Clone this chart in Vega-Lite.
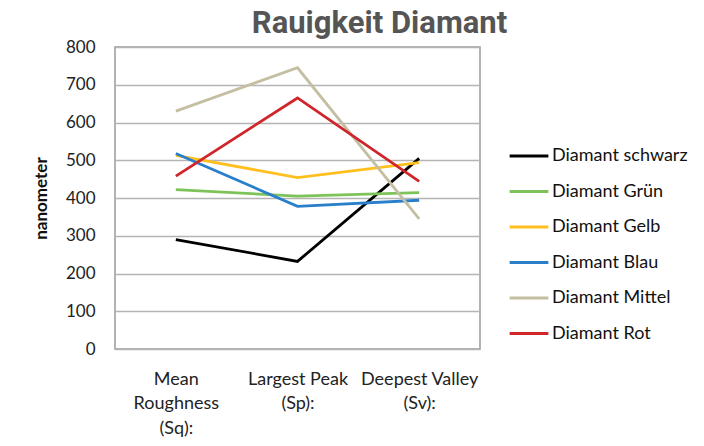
{
  "$schema": "https://vega.github.io/schema/vega-lite/v6.json",
  "autosize": {"type": "none"},
  "padding": {"left": 115, "top": 47, "right": 224, "bottom": 97},
  "width": 365,
  "height": 302,
  "background": "white",
  "title": {
    "text": "Rauigkeit Diamant",
    "font": "Roboto",
    "fontSize": 31,
    "fontWeight": "bold",
    "color": "#555555",
    "anchor": "middle",
    "dx": 82,
    "offset": -2
  },
  "data": {
    "values": [
      {"param": "Mean Roughness (Sq):", "series": "Diamant schwarz", "value": 290},
      {"param": "Largest Peak (Sp):", "series": "Diamant schwarz", "value": 232},
      {"param": "Deepest Valley (Sv):", "series": "Diamant schwarz", "value": 505},
      {"param": "Mean Roughness (Sq):", "series": "Diamant Grün", "value": 422},
      {"param": "Largest Peak (Sp):", "series": "Diamant Grün", "value": 405},
      {"param": "Deepest Valley (Sv):", "series": "Diamant Grün", "value": 414},
      {"param": "Mean Roughness (Sq):", "series": "Diamant Gelb", "value": 513},
      {"param": "Largest Peak (Sp):", "series": "Diamant Gelb", "value": 454},
      {"param": "Deepest Valley (Sv):", "series": "Diamant Gelb", "value": 494},
      {"param": "Mean Roughness (Sq):", "series": "Diamant Blau", "value": 518},
      {"param": "Largest Peak (Sp):", "series": "Diamant Blau", "value": 378},
      {"param": "Deepest Valley (Sv):", "series": "Diamant Blau", "value": 394},
      {"param": "Mean Roughness (Sq):", "series": "Diamant Mittel", "value": 630},
      {"param": "Largest Peak (Sp):", "series": "Diamant Mittel", "value": 745},
      {"param": "Deepest Valley (Sv):", "series": "Diamant Mittel", "value": 345},
      {"param": "Mean Roughness (Sq):", "series": "Diamant Rot", "value": 458},
      {"param": "Largest Peak (Sp):", "series": "Diamant Rot", "value": 665},
      {"param": "Deepest Valley (Sv):", "series": "Diamant Rot", "value": 444}
    ]
  },
  "mark": {"type": "line", "strokeWidth": 2.8},
  "encoding": {
    "x": {
      "field": "param",
      "type": "nominal",
      "sort": ["Mean Roughness (Sq):", "Largest Peak (Sp):", "Deepest Valley (Sv):"],
      "scale": {"type": "point", "padding": 0.5},
      "axis": {
        "title": null,
        "domain": false,
        "ticks": false,
        "grid": false,
        "labelAngle": 0,
        "labelFont": "Lato",
        "labelFontSize": 18,
        "labelColor": "#222222",
        "labelPadding": 21,
        "labelLineHeight": 24.5,
        "labelBaseline": "top",
        "labelExpr": "datum.value == 'Mean Roughness (Sq):' ? ['Mean', 'Roughness', '(Sq):'] : datum.value == 'Largest Peak (Sp):' ? ['Largest Peak', '(Sp):'] : ['Deepest Valley', '(Sv):']"
      }
    },
    "y": {
      "field": "value",
      "type": "quantitative",
      "scale": {"domain": [0, 800], "nice": false},
      "axis": {
        "title": "nanometer",
        "titleFont": "Lato",
        "titleFontSize": 17,
        "titleFontWeight": "bold",
        "titleColor": "#111111",
        "titlePadding": 15,
        "values": [0, 100, 200, 300, 400, 500, 600, 700, 800],
        "domain": false,
        "ticks": false,
        "labelFont": "Lato",
        "labelFontSize": 17,
        "labelColor": "#222222",
        "labelPadding": 20,
        "gridColor": "#b4b4b4",
        "gridWidth": 1.5
      }
    },
    "color": {
      "field": "series",
      "type": "nominal",
      "sort": ["Diamant schwarz", "Diamant Grün", "Diamant Gelb", "Diamant Blau", "Diamant Mittel", "Diamant Rot"],
      "scale": {
        "domain": ["Diamant schwarz", "Diamant Grün", "Diamant Gelb", "Diamant Blau", "Diamant Mittel", "Diamant Rot"],
        "range": ["#000000", "#7dc35a", "#ffbf1f", "#2a7fcb", "#c4bfa2", "#d0262b"]
      },
      "legend": {
        "title": null,
        "orient": "none",
        "legendX": 393,
        "legendY": 88,
        "symbolType": "stroke",
        "symbolSize": 1500,
        "symbolStrokeWidth": 3,
        "rowPadding": 5.5,
        "labelFont": "Lato",
        "labelFontSize": 18,
        "labelColor": "#111111",
        "labelOffset": 2
      }
    }
  },
  "config": {
    "view": {"stroke": "#999999", "strokeWidth": 1.5}
  }
}
